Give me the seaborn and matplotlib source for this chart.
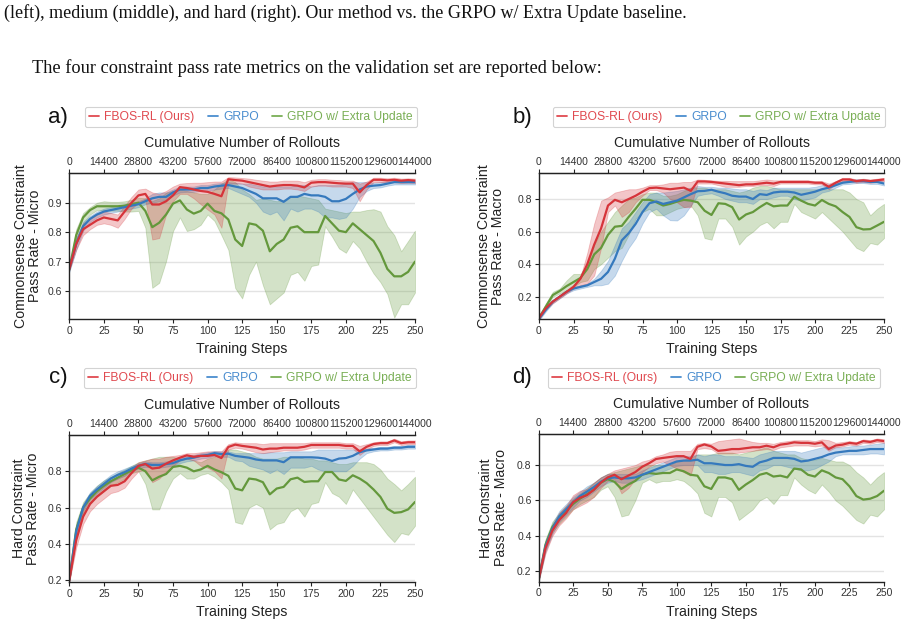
import numpy as np
import matplotlib
matplotlib.use("Agg")
import matplotlib.pyplot as plt
import seaborn as sns

# ---------------- data ----------------
steps = list(range(0, 251, 5))
rollouts_per_step = 576
top_ticks = list(range(0, 144001, 14400))
series_names = ["FBOS-RL (Ours)", "GRPO", "GRPO w/ Extra Update"]

# Panel a: Commonsense Constraint Pass Rate - Micro
a_red_mean = [.675,.76,.81,.825,.84,.85,.845,.84,.87,.9,
              .925,.93,.894,.894,.905,.925,.953,.95,.945,.94,
              .937,.93,.922,.98,.977,.975,.97,.965,.96,.955,
              .958,.96,.96,.958,.952,.968,.97,.97,.968,.966,
              .965,.965,.935,.96,.978,.978,.976,.978,.975,.977,.975]
a_red_lo = [.67,.74,.79,.81,.825,.83,.825,.815,.845,.88,
            .9,.91,.775,.78,.86,.905,.93,.93,.915,.895,
            .877,.86,.815,.965,.965,.965,.955,.95,.945,.945,
            .945,.948,.948,.945,.94,.955,.958,.958,.955,.955,
            .955,.95,.905,.945,.97,.97,.968,.97,.967,.968,.967]
a_red_hi = [.68,.78,.83,.845,.86,.87,.865,.86,.89,.92,
            .945,.948,.935,.93,.94,.955,.965,.967,.968,.968,
            .97,.972,.972,.987,.986,.984,.982,.978,.975,.972,
            .972,.975,.975,.975,.97,.978,.98,.98,.978,.977,
            .975,.975,.965,.972,.985,.985,.983,.985,.982,.983,.982]
a_blue_mean = [.675,.76,.82,.845,.86,.87,.875,.88,.885,.89,
               .895,.905,.915,.92,.92,.935,.945,.945,.945,.95,
               .95,.955,.958,.96,.955,.95,.94,.93,.915,.915,
               .915,.903,.92,.92,.93,.925,.925,.92,.905,.905,
               .913,.93,.945,.955,.958,.96,.965,.97,.97,.97,.97]
a_blue_lo = [.665,.74,.805,.835,.85,.86,.865,.87,.875,.88,
             .885,.895,.9,.905,.91,.925,.935,.937,.937,.94,
             .94,.945,.948,.95,.94,.93,.92,.9,.87,.86,
             .87,.84,.88,.87,.88,.88,.87,.85,.85,.845,
             .85,.88,.92,.94,.95,.952,.958,.962,.962,.962,.962]
a_blue_hi = [.685,.78,.835,.855,.87,.88,.885,.89,.895,.9,
             .905,.915,.93,.935,.935,.945,.955,.955,.955,.96,
             .96,.965,.967,.97,.968,.965,.965,.96,.955,.958,
             .955,.955,.955,.96,.96,.955,.96,.96,.96,.96,
             .965,.97,.97,.97,.968,.97,.973,.978,.978,.978,.978]
a_green_mean = [.675,.79,.85,.875,.888,.888,.888,.888,.89,.895,
                .9,.872,.817,.832,.86,.897,.908,.877,.863,.872,
                .897,.872,.864,.843,.775,.753,.83,.825,.805,.735,
                .76,.775,.815,.82,.8,.8,.8,.855,.83,.805,
                .8,.83,.81,.79,.77,.73,.675,.65,.65,.665,.7]
a_green_lo = [.67,.76,.83,.86,.875,.875,.873,.873,.87,.87,
              .872,.815,.611,.628,.702,.804,.85,.804,.81,.825,
              .86,.838,.79,.74,.61,.575,.655,.7,.62,.555,
              .575,.595,.655,.665,.635,.685,.69,.82,.785,.745,
              .73,.77,.745,.7,.66,.63,.59,.51,.555,.555,.595]
a_green_hi = [.68,.81,.865,.885,.9,.905,.903,.903,.905,.91,
              .917,.915,.906,.915,.934,.94,.945,.94,.935,.93,
              .93,.945,.965,.98,.97,.945,.93,.91,.915,.91,
              .905,.91,.92,.925,.92,.915,.91,.88,.875,.87,
              .865,.87,.87,.875,.878,.87,.82,.79,.735,.77,.805]

# Panel b: Commonsense Constraint Pass Rate - Macro
b_red_mean = [.07,.13,.17,.2,.23,.26,.31,.4,.52,.62,
              .76,.795,.78,.8,.82,.845,.867,.87,.865,.86,
              .865,.87,.85,.908,.908,.905,.9,.895,.89,.885,
              .89,.89,.895,.9,.895,.905,.905,.905,.905,.905,
              .9,.9,.875,.9,.92,.92,.91,.915,.91,.915,.92]
b_red_lo = [.06,.12,.16,.19,.22,.25,.27,.28,.33,.5,
            .72,.76,.69,.72,.78,.82,.855,.855,.84,.8,
            .78,.75,.75,.895,.895,.895,.885,.875,.875,.875,
            .88,.88,.885,.885,.88,.895,.895,.895,.895,.895,
            .89,.89,.86,.89,.91,.91,.9,.905,.9,.905,.91]
b_red_hi = [.08,.14,.18,.21,.24,.275,.32,.47,.65,.79,
            .81,.84,.85,.86,.86,.87,.885,.885,.89,.9,
            .9,.905,.905,.92,.918,.915,.912,.912,.91,.91,
            .91,.91,.915,.92,.915,.915,.915,.915,.915,.915,
            .91,.91,.895,.91,.93,.93,.92,.925,.92,.925,.93]
b_blue_mean = [.065,.12,.17,.2,.23,.25,.26,.27,.29,.31,
               .352,.434,.546,.59,.647,.72,.774,.785,.77,.78,
               .79,.81,.83,.848,.85,.857,.845,.835,.82,.815,
               .815,.8,.83,.825,.84,.845,.845,.84,.826,.835,
               .845,.86,.87,.885,.9,.905,.91,.91,.905,.905,.895]
b_blue_lo = [.055,.11,.16,.19,.22,.24,.25,.26,.27,.27,
             .28,.33,.42,.5,.56,.65,.72,.74,.7,.67,
             .668,.7,.76,.82,.83,.835,.82,.8,.79,.78,
             .78,.77,.8,.8,.81,.82,.82,.8,.79,.8,
             .81,.84,.85,.87,.89,.893,.898,.898,.893,.893,.883]
b_blue_hi = [.075,.13,.18,.21,.24,.26,.27,.28,.31,.36,
             .42,.52,.62,.66,.72,.78,.83,.84,.84,.845,
             .85,.86,.87,.88,.875,.875,.87,.87,.865,.86,
             .86,.85,.86,.855,.87,.87,.87,.87,.87,.87,
             .875,.885,.89,.9,.91,.917,.922,.922,.917,.917,.907]
b_green_mean = [.07,.14,.21,.235,.265,.29,.315,.37,.46,.5,
                .58,.63,.635,.69,.74,.795,.795,.78,.76,.77,
                .784,.795,.79,.78,.728,.702,.774,.77,.75,.674,
                .705,.72,.75,.776,.755,.76,.76,.814,.79,.77,
                .76,.794,.77,.755,.72,.69,.627,.613,.615,.637,.66]
b_green_lo = [.06,.13,.2,.22,.24,.26,.29,.3,.37,.4,
              .44,.48,.5,.58,.68,.72,.74,.7,.7,.72,
              .74,.75,.76,.7,.56,.55,.68,.68,.63,.52,
              .57,.6,.64,.66,.62,.66,.66,.77,.72,.7,
              .68,.72,.68,.64,.6,.55,.5,.48,.53,.52,.56]
b_green_hi = [.08,.16,.23,.25,.3,.34,.34,.4,.52,.6,
              .66,.72,.76,.8,.81,.83,.84,.84,.82,.82,
              .83,.85,.87,.87,.87,.86,.86,.86,.85,.84,
              .85,.87,.88,.88,.87,.86,.86,.86,.86,.86,
              .86,.86,.86,.86,.86,.84,.8,.78,.7,.74,.77]

# Panel c: Hard Constraint Pass Rate - Micro
c_red_mean = [.2,.42,.55,.62,.66,.69,.72,.725,.745,.79,
              .83,.84,.815,.82,.842,.86,.875,.888,.88,.885,
              .885,.89,.873,.934,.947,.94,.935,.93,.92,.925,
              .925,.93,.93,.93,.935,.945,.945,.945,.945,.945,
              .94,.94,.91,.935,.95,.955,.955,.97,.955,.96,.96]
c_red_lo = [.19,.38,.51,.58,.62,.65,.68,.69,.71,.76,
            .8,.81,.74,.76,.8,.83,.86,.87,.86,.83,
            .82,.8,.76,.92,.93,.925,.915,.905,.9,.905,
            .91,.915,.915,.915,.92,.93,.93,.93,.93,.93,
            .925,.925,.89,.92,.94,.945,.945,.96,.945,.95,.95]
c_red_hi = [.21,.46,.59,.66,.7,.73,.75,.76,.78,.82,
            .85,.86,.87,.87,.88,.885,.89,.9,.9,.905,
            .91,.91,.91,.95,.96,.955,.955,.955,.95,.955,
            .955,.955,.955,.955,.955,.96,.96,.96,.96,.96,
            .955,.955,.94,.95,.96,.965,.965,.98,.965,.97,.97]
c_blue_mean = [.2,.47,.6,.665,.7,.73,.76,.78,.795,.815,
               .83,.84,.835,.835,.84,.845,.86,.87,.875,.885,
               .89,.9,.895,.897,.885,.88,.875,.865,.86,.86,
               .86,.85,.877,.877,.877,.877,.875,.87,.857,.87,
               .873,.885,.905,.915,.92,.925,.925,.93,.93,.935,.935]
c_blue_lo = [.19,.44,.58,.645,.68,.71,.74,.76,.775,.8,
             .815,.825,.82,.82,.825,.83,.845,.855,.86,.87,
             .875,.885,.88,.88,.86,.855,.83,.82,.81,.79,
             .81,.785,.82,.82,.82,.83,.81,.8,.8,.8,
             .8,.83,.87,.9,.91,.915,.915,.92,.92,.925,.925]
c_blue_hi = [.21,.5,.62,.685,.72,.75,.78,.8,.815,.83,
             .845,.855,.85,.85,.855,.86,.875,.885,.89,.9,
             .905,.912,.91,.91,.9,.9,.9,.9,.9,.905,
             .905,.905,.91,.91,.91,.91,.92,.92,.92,.92,
             .92,.92,.92,.925,.93,.935,.935,.94,.94,.945,.945]
c_green_mean = [.2,.48,.6,.65,.69,.72,.745,.765,.785,.805,
                .82,.8,.75,.77,.785,.824,.83,.82,.8,.81,
                .83,.81,.795,.775,.705,.695,.76,.755,.74,.673,
                .705,.714,.756,.765,.741,.745,.745,.796,.796,.755,
                .747,.778,.76,.735,.7,.659,.594,.571,.575,.59,.631]
c_green_lo = [.19,.44,.57,.62,.66,.69,.72,.74,.76,.79,
              .8,.73,.59,.59,.69,.76,.79,.76,.76,.78,
              .79,.77,.74,.7,.52,.51,.6,.62,.6,.48,
              .51,.52,.58,.6,.55,.62,.63,.74,.68,.66,
              .62,.7,.65,.6,.55,.5,.45,.41,.46,.45,.5]
c_green_hi = [.21,.52,.63,.68,.72,.75,.77,.79,.81,.83,
              .85,.86,.87,.88,.88,.88,.87,.87,.86,.85,
              .87,.88,.9,.92,.92,.91,.9,.88,.87,.87,
              .87,.88,.88,.88,.87,.87,.86,.86,.85,.84,
              .84,.85,.85,.85,.84,.81,.76,.73,.695,.73,.77]

# Panel d: Hard Constraint Pass Rate - Macro
d_red_mean = [.15,.33,.43,.49,.53,.59,.615,.63,.66,.7,
              .73,.745,.72,.74,.76,.79,.81,.834,.84,.845,
              .85,.85,.834,.903,.916,.905,.88,.884,.89,.89,
              .895,.9,.9,.909,.9,.915,.92,.928,.925,.925,
              .92,.928,.89,.91,.915,.925,.92,.935,.93,.94,.935]
d_red_lo = [.14,.3,.4,.46,.5,.55,.57,.59,.62,.67,
            .71,.72,.64,.67,.72,.76,.79,.81,.82,.8,
            .78,.76,.74,.89,.895,.89,.865,.865,.865,.87,
            .875,.88,.885,.89,.885,.9,.905,.91,.91,.91,
            .905,.91,.88,.9,.905,.915,.91,.925,.92,.93,.925]
d_red_hi = [.16,.36,.46,.53,.57,.63,.655,.665,.7,.73,
            .75,.77,.78,.79,.8,.82,.83,.85,.86,.875,
            .88,.88,.88,.92,.925,.92,.935,.94,.945,.95,
            .94,.93,.925,.925,.92,.93,.935,.94,.94,.94,
            .935,.945,.94,.925,.93,.935,.93,.945,.94,.95,.945]
d_blue_mean = [.15,.34,.44,.51,.55,.59,.625,.65,.675,.705,
               .725,.73,.725,.725,.73,.745,.76,.775,.79,.805,
               .82,.825,.825,.83,.81,.81,.805,.8,.8,.805,
               .795,.79,.815,.825,.84,.84,.84,.835,.82,.825,
               .835,.845,.86,.87,.875,.88,.88,.885,.89,.89,.89]
d_blue_lo = [.14,.31,.41,.48,.52,.56,.6,.62,.65,.68,
             .7,.71,.7,.7,.71,.72,.735,.75,.765,.78,
             .795,.8,.8,.8,.76,.76,.75,.75,.76,.76,
             .75,.74,.77,.78,.8,.8,.79,.78,.77,.77,
             .78,.8,.82,.85,.86,.86,.86,.86,.865,.865,.86]
d_blue_hi = [.16,.37,.47,.54,.58,.62,.65,.68,.7,.73,
             .75,.75,.75,.75,.75,.77,.785,.8,.815,.83,
             .845,.85,.85,.86,.85,.86,.86,.85,.85,.85,
             .845,.84,.86,.87,.88,.88,.88,.88,.87,.88,
             .89,.9,.905,.9,.9,.905,.91,.91,.915,.92,.925]
d_green_mean = [.15,.35,.45,.5,.54,.58,.61,.635,.66,.7,
                .72,.705,.665,.69,.71,.745,.755,.75,.755,.755,
                .775,.765,.745,.74,.68,.665,.73,.73,.72,.66,
                .69,.715,.745,.755,.735,.74,.73,.78,.775,.745,
                .735,.77,.755,.73,.72,.68,.625,.605,.61,.625,.655]
d_green_lo = [.14,.32,.42,.47,.51,.55,.58,.6,.62,.66,
              .68,.62,.51,.52,.6,.7,.72,.7,.71,.71,
              .72,.71,.68,.64,.53,.51,.62,.62,.59,.49,
              .52,.55,.6,.62,.58,.63,.63,.73,.69,.66,
              .64,.69,.65,.6,.57,.53,.49,.47,.52,.51,.55]
d_green_hi = [.16,.38,.48,.53,.57,.61,.64,.67,.7,.73,
              .75,.76,.77,.78,.79,.8,.8,.8,.8,.8,
              .82,.83,.84,.86,.86,.86,.87,.87,.87,.86,
              .87,.88,.89,.9,.88,.87,.86,.86,.84,.83,
              .83,.84,.83,.82,.82,.8,.76,.73,.69,.73,.76]

panel_letters = ["a)", "b)", "c)", "d)"]
panel_ylabels = ["Commonsense Constraint\nPass Rate - Micro",
                 "Commonsense Constraint\nPass Rate - Macro",
                 "Hard Constraint\nPass Rate - Micro",
                 "Hard Constraint\nPass Rate - Macro"]
panel_yticks = [[0.6, 0.7, 0.8, 0.9], [0.2, 0.4, 0.6, 0.8],
                [0.2, 0.4, 0.6, 0.8], [0.2, 0.4, 0.6, 0.8]]
panel_ylims = [(0.505, 1.0), (0.063, 0.958), (0.19, 1.0), (0.143, 0.975)]
bottom_ticks = [0, 25, 50, 75, 100, 125, 150, 175, 200, 225, 250]

caption_line = "(left), medium (middle), and hard (right). Our method vs. the GRPO w/ Extra Update baseline."
intro_line = "The four constraint pass rate metrics on the validation set are reported below:"

# ---------------- style ----------------
sns.set_style("ticks")
plt.rcParams["font.family"] = ["Liberation Sans", "DejaVu Sans"]
plt.rcParams["axes.edgecolor"] = "#222222"
plt.rcParams["xtick.color"] = "#222222"
plt.rcParams["ytick.color"] = "#222222"
plt.rcParams["xtick.labelcolor"] = "#333333"
plt.rcParams["ytick.labelcolor"] = "#333333"

line_colors = ["#d6343a", "#3579bd", "#64983c"]
text_colors = ["#e04a50", "#4a8dcf", "#7aaf56"]

W, H = 914, 629
fig = plt.figure(figsize=(W / 100, H / 100), dpi=100)

def fx(px):
    return px / W

def fy(py):
    return 1 - py / H

# axes rectangles (pixels): left, top, right, bottom
rects = [(69.3, 173.3, 415, 319), (539, 173.3, 884, 319),
         (69.3, 435, 415, 582), (538.5, 434, 884, 581.5)]
legend_centers = [(251, 117), (719, 117), (250, 378), (714, 378)]
letter_pos = [(58, 117), (522, 117), (58, 377), (522, 377)]
ylabel_x = [-0.078, -0.098, -0.084, -0.089]

panels = [
    [(a_red_mean, a_red_lo, a_red_hi), (a_blue_mean, a_blue_lo, a_blue_hi), (a_green_mean, a_green_lo, a_green_hi)],
    [(b_red_mean, b_red_lo, b_red_hi), (b_blue_mean, b_blue_lo, b_blue_hi), (b_green_mean, b_green_lo, b_green_hi)],
    [(c_red_mean, c_red_lo, c_red_hi), (c_blue_mean, c_blue_lo, c_blue_hi), (c_green_mean, c_green_lo, c_green_hi)],
    [(d_red_mean, d_red_lo, d_red_hi), (d_blue_mean, d_blue_lo, d_blue_hi), (d_green_mean, d_green_lo, d_green_hi)],
]

for i, series in enumerate(panels):
    l, t, r, b = rects[i]
    ax = fig.add_axes([fx(l), fy(b), fx(r) - fx(l), fy(t) - fy(b)])
    # draw green first, red last (on top)
    for j in [2, 1, 0]:
        mean, lo, hi = series[j]
        ax.fill_between(steps, lo, hi, color=line_colors[j], alpha=0.28, linewidth=0.6)
        sns.lineplot(x=steps, y=mean, ax=ax, color=line_colors[j], linewidth=1.6,
                     label=series_names[j])
    ax.set_xlim(0, 250)
    ax.set_ylim(*panel_ylims[i])
    ax.set_xticks(bottom_ticks)
    ax.set_yticks(panel_yticks[i])
    ax.yaxis.grid(True, color="#e3e3e3", linewidth=1.0)
    ax.xaxis.grid(False)
    ax.set_axisbelow(True)
    ax.tick_params(axis="both", labelsize=7.5, length=3, width=0.8, pad=2)
    ax.spines["right"].set_visible(False)
    for s in ["left", "bottom", "top"]:
        ax.spines[s].set_linewidth(1.0)
    ax.set_xlabel("Training Steps", fontsize=10.2, color="#222222", labelpad=4.5)
    ax.set_ylabel(panel_ylabels[i], fontsize=10.2, color="#222222", linespacing=1.05)
    ax.yaxis.set_label_coords(ylabel_x[i], 0.5)

    sec = ax.secondary_xaxis("top", functions=(lambda s: s * rollouts_per_step,
                                               lambda r: r / rollouts_per_step))
    sec.set_xticks(top_ticks)
    sec.tick_params(axis="x", labelsize=7.5, length=3, width=0.8, pad=1.5)
    sec.set_xlabel("Cumulative Number of Rollouts", fontsize=10.2, color="#222222", labelpad=7)

    handles, labels = ax.get_legend_handles_labels()
    order = [labels.index(n) for n in series_names]
    handles = [handles[k] for k in order]
    labels = [labels[k] for k in order]
    cx, cy = legend_centers[i]
    leg = ax.legend(handles, labels, loc="center", bbox_to_anchor=(fx(cx), fy(cy)),
                    bbox_transform=fig.transFigure, ncol=3, fontsize=8.7,
                    handlelength=0.8, handletextpad=0.45, columnspacing=1.1,
                    frameon=True, fancybox=True, edgecolor="#c8c8c8",
                    borderpad=0.35)
    leg.get_frame().set_linewidth(0.8)
    for txt, c, h in zip(leg.get_texts(), text_colors, leg.legend_handles):
        txt.set_color(c)
        h.set_color(c)
        h.set_linewidth(1.3)
    lx, ly = letter_pos[i]
    fig.text(fx(lx), fy(ly), panel_letters[i], fontsize=16, ha="center", va="center",
             color="#111111")

fig.text(fx(4), fy(13), caption_line, fontsize=13, family=["Liberation Serif"],
         ha="left", va="center", color="#111111")
fig.text(fx(32), fy(68), intro_line, fontsize=13.2, family=["Liberation Serif"],
         ha="left", va="center", color="#111111")

fig.savefig("out.png", dpi=100)
